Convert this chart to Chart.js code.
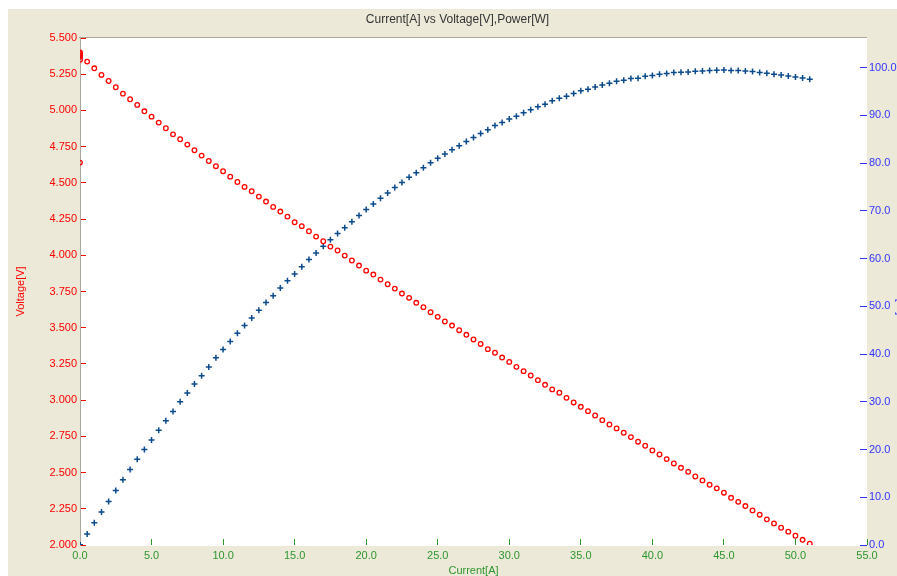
<!DOCTYPE html>
<html>
<head>
<meta charset="utf-8">
<script src="https://cdn.jsdelivr.net/npm/chart.js@4/dist/chart.umd.min.js"></script>
<style>
  html, body { margin: 0; padding: 0; background: #ffffff; }
  #wrap { width: 897px; height: 576px; }
</style>
</head>
<body>
<div id="wrap"><canvas id="c" width="897" height="576"></canvas></div>
<script>
// Measured current [A]; the first readings were taken at 0 A
const current = [
  0, 0, 0, 0, 0, 0,
  0.5, 1.0, 1.5, 2.0, 2.5, 3.0, 3.5, 4.0, 4.5, 5.0,
  5.5, 6.0, 6.5, 7.0, 7.5, 8.0, 8.5, 9.0, 9.5, 10.0,
  10.5, 11.0, 11.5, 12.0, 12.5, 13.0, 13.5, 14.0, 14.5, 15.0,
  15.5, 16.0, 16.5, 17.0, 17.5, 18.0, 18.5, 19.0, 19.5, 20.0,
  20.5, 21.0, 21.5, 22.0, 22.5, 23.0, 23.5, 24.0, 24.5, 25.0,
  25.5, 26.0, 26.5, 27.0, 27.5, 28.0, 28.5, 29.0, 29.5, 30.0,
  30.5, 31.0, 31.5, 32.0, 32.5, 33.0, 33.5, 34.0, 34.5, 35.0,
  35.5, 36.0, 36.5, 37.0, 37.5, 38.0, 38.5, 39.0, 39.5, 40.0,
  40.5, 41.0, 41.5, 42.0, 42.5, 43.0, 43.5, 44.0, 44.5, 45.0,
  45.5, 46.0, 46.5, 47.0, 47.5, 48.0, 48.5, 49.0, 49.5, 50.0,
  50.5, 51.0
];

// Terminal voltage [V]
const voltage = [
  5.40, 5.39, 5.38, 5.37, 5.35, 4.64,
  5.337, 5.291, 5.245, 5.203, 5.160, 5.116, 5.077, 5.038, 4.994, 4.957,
  4.916, 4.877, 4.835, 4.801, 4.764, 4.725, 4.688, 4.651, 4.615, 4.580,
  4.543, 4.506, 4.472, 4.442, 4.405, 4.371, 4.334, 4.302, 4.267, 4.228,
  4.201, 4.166, 4.129, 4.097, 4.060, 4.033, 3.998, 3.964, 3.929, 3.894,
  3.867, 3.832, 3.800, 3.770, 3.736, 3.706, 3.672, 3.642, 3.607, 3.575,
  3.543, 3.515, 3.483, 3.451, 3.419, 3.388, 3.352, 3.327, 3.294, 3.264,
  3.230, 3.200, 3.170, 3.138, 3.106, 3.074, 3.051, 3.016, 2.984, 2.954,
  2.924, 2.894, 2.862, 2.832, 2.805, 2.775, 2.745, 2.713, 2.685, 2.653,
  2.625, 2.593, 2.563, 2.533, 2.505, 2.473, 2.446, 2.416, 2.391, 2.361,
  2.326, 2.298, 2.269, 2.239, 2.209, 2.177, 2.149, 2.119, 2.092, 2.064,
  2.036, 2.009
];

// Output power [W]
const power = [
  0, 0, 0, 0, 0, 0,
  2.30, 4.67, 6.89, 9.12, 11.42, 13.65, 15.81, 17.97, 19.99, 22.01,
  24.03, 26.04, 27.99, 30.01, 31.82, 33.70, 35.45, 37.26, 39.21, 40.95,
  42.62, 44.36, 45.96, 47.56, 49.16, 50.77, 52.23, 53.83, 55.36, 56.75,
  58.29, 59.82, 61.14, 62.60, 63.93, 65.25, 66.43, 67.69, 69.01, 70.26,
  71.45, 72.63, 73.75, 74.86, 75.91, 77.02, 77.99, 79.04, 80.08, 80.99,
  81.89, 82.80, 83.64, 84.54, 85.35, 86.20, 86.98, 87.88, 88.51, 89.21,
  89.83, 90.53, 91.16, 91.78, 92.34, 93.04, 93.59, 94.01, 94.57, 95.13,
  95.47, 95.96, 96.38, 96.73, 97.14, 97.35, 97.70, 97.77, 98.19, 98.33,
  98.61, 98.75, 98.96, 99.03, 99.09, 99.23, 99.30, 99.37, 99.44, 99.51,
  99.37, 99.37, 99.30, 99.16, 98.96, 98.82, 98.61, 98.47, 98.26, 98.05,
  97.84, 97.56
];

// Axis tick values
const currentTicks = [0, 5, 10, 15, 20, 25, 30, 35, 40, 45, 50, 55];
const voltageTicks = [2.0, 2.25, 2.5, 2.75, 3.0, 3.25, 3.5, 3.75, 4.0, 4.25, 4.5, 4.75, 5.0, 5.25, 5.5];
const powerTicks = [0, 10, 20, 30, 40, 50, 60, 70, 80, 90, 100];

const FONT = '"Liberation Sans", Arial, sans-serif';
const RED = '#FF0000';
const BLUE = '#3333FF';
const GREEN = '#2E962E';
const FRAME = '#ECE9D8';

// Window-style frame: beige panel, white plotting area with a grey top edge
const backdrop = {
  id: 'backdrop',
  beforeDraw(chart) {
    const { ctx, chartArea: a, width, height } = chart;
    ctx.save();
    ctx.fillStyle = '#ffffff';
    ctx.fillRect(0, 0, width, height);
    ctx.fillStyle = FRAME;
    ctx.fillRect(8, 9, width - 8, height - 9);
    ctx.fillStyle = '#ffffff';
    ctx.fillRect(a.left, a.top - 1, a.right - a.left, a.bottom - a.top + 2);
    ctx.strokeStyle = '#ACA899';
    ctx.lineWidth = 1;
    ctx.beginPath();
    ctx.moveTo(a.left - 1, a.top - 0.5);
    ctx.lineTo(a.right, a.top - 0.5);
    ctx.stroke();
    ctx.restore();
  }
};

const useTicks = (values) => (scale) => {
  scale.ticks = values.map(v => ({ value: v }));
};

const points = (ys) => current.map((x, i) => ({ x: x, y: ys[i] }));

new Chart(document.getElementById('c'), {
  type: 'scatter',
  data: {
    datasets: [
      {
        label: 'Voltage[V]',
        data: points(voltage),
        yAxisID: 'yV',
        showLine: false,
        pointStyle: 'circle',
        pointRadius: 2.3,
        pointBorderWidth: 1.3,
        borderColor: RED,
        backgroundColor: 'rgba(0,0,0,0)'
      },
      {
        label: 'Power[W]',
        data: points(power),
        yAxisID: 'yP',
        showLine: false,
        pointStyle: 'cross',
        pointRadius: 3,
        pointBorderWidth: 1.5,
        borderColor: '#0B4A8B',
        backgroundColor: '#0B4A8B'
      }
    ]
  },
  options: {
    responsive: false,
    animation: false,
    events: [],
    layout: { padding: { left: 8, top: 9, right: -10, bottom: 0 } },
    plugins: {
      legend: { display: false },
      tooltip: { enabled: false },
      title: {
        display: true,
        text: 'Current[A] vs Voltage[V],Power[W]',
        color: '#333333',
        font: { family: FONT, size: 12, weight: 'normal', lineHeight: 1.2 },
        padding: { top: 3, bottom: 11.6 }
      }
    },
    scales: {
      x: {
        type: 'linear',
        position: 'bottom',
        min: 0,
        max: 55,
        afterBuildTicks: useTicks(currentTicks),
        afterFit(scale) { scale.height = 31; },
        border: { display: false },
        grid: { drawOnChartArea: false, drawTicks: true, tickLength: -6, tickColor: GREEN, tickWidth: 1 },
        ticks: {
          color: GREEN,
          padding: 10.5,
          maxRotation: 0,
          autoSkip: false,
          font: { family: FONT, size: 11 },
          callback: (v) => Number(v).toFixed(1)
        },
        title: {
          display: true,
          text: 'Current[A]',
          color: GREEN,
          font: { family: FONT, size: 11 },
          padding: { top: 0, bottom: -2 }
        }
      },
      yV: {
        type: 'linear',
        position: 'left',
        min: 2.0,
        max: 5.5,
        afterBuildTicks: useTicks(voltageTicks),
        afterFit(scale) { scale.width = 72; },
        border: { display: true, color: '#ACA899', width: 1 },
        grid: { drawOnChartArea: false, drawTicks: true, tickLength: -6, tickColor: RED, tickWidth: 1 },
        ticks: {
          color: RED,
          padding: 9,
          autoSkip: false,
          font: { family: FONT, size: 11 },
          callback: (v) => Number(v).toFixed(3)
        },
        title: {
          display: true,
          text: 'Voltage[V]',
          color: RED,
          font: { family: FONT, size: 11 },
          padding: { top: 6.4, bottom: 0 }
        }
      },
      yP: {
        type: 'linear',
        position: 'right',
        min: 0,
        max: 106.2,
        afterBuildTicks: useTicks(powerTicks),
        afterFit(scale) { scale.width = 40; },
        border: { display: false },
        grid: { drawOnChartArea: false, drawTicks: true, tickLength: -7, tickColor: BLUE, tickWidth: 1 },
        ticks: {
          color: BLUE,
          padding: 9,
          autoSkip: false,
          font: { family: FONT, size: 11 },
          callback: (v) => Number(v).toFixed(1)
        },
        title: {
          display: true,
          text: 'Power[W]',
          color: BLUE,
          font: { family: FONT, size: 11 },
          padding: { top: 0, bottom: 0 }
        }
      }
    }
  },
  plugins: [backdrop]
});
</script>
</body>
</html>
